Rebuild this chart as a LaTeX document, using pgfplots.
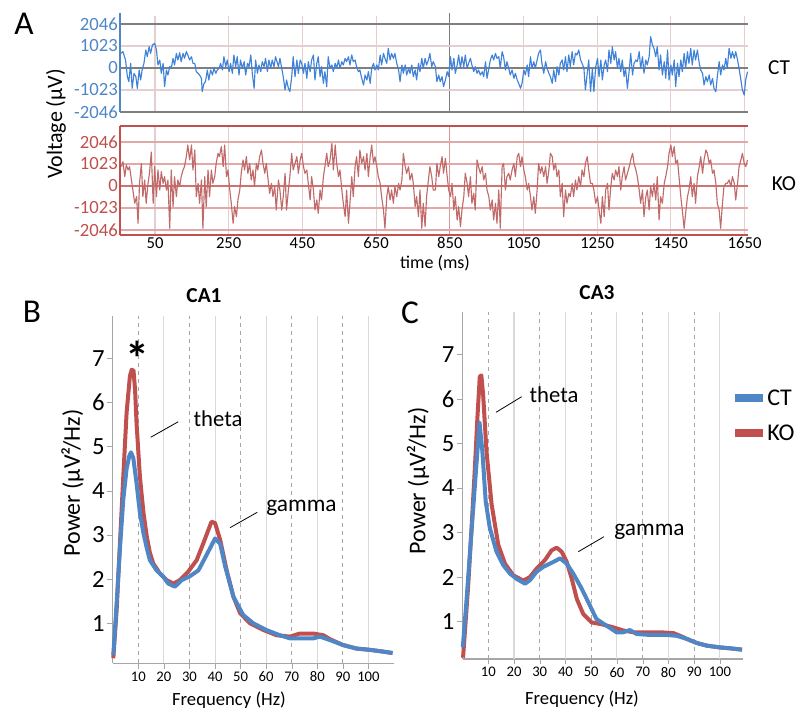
\documentclass[border=0pt]{standalone}
\usepackage{pgfplots}
\pgfplotsset{compat=1.18}
\usepackage{fontspec}
\setmainfont{Carlito}
\definecolor{ctblue}{HTML}{4F86C6}
\definecolor{kored}{HTML}{C0504D}
\definecolor{trblue}{HTML}{3F82D8}
\definecolor{trred}{HTML}{C06A6A}
\definecolor{gridpink}{HTML}{E3CFD0}
\definecolor{darkgrid}{HTML}{7F7F7F}
\definecolor{kogrid}{HTML}{E2A8A8}
\definecolor{axisgray}{HTML}{A6A6A6}
\definecolor{lightgrid}{HTML}{D9D9D9}

\begin{document}
\begin{tikzpicture}[x=0.75pt,y=-0.75pt]
\useasboundingbox (0,0) rectangle (801,713);

% ---------- A: CT trace ----------
\begin{axis}[at={(90pt,-84pt)},anchor=south west,scale only axis,
  width=471.2pt,height=74.25pt,clip=false,
  xmin=-45,xmax=1660,ymin=-2046,ymax=2558,
  axis line style={draw=none},xtick=\empty,
  ytick={-2046,-1023,0,1023,2046},yticklabels={-2046,-1023,0,1023,2046},
  major tick length=0pt,
  yticklabel style={font=\fontsize{14}{16}\selectfont,text=ctblue,inner sep=1.5pt}]
\pgfplotsinvokeforeach{50,250,450,650,1050,1250,1450,1650}{
  \draw[gridpink,line width=0.8pt] (axis cs:#1,-2046) -- (axis cs:#1,2400);}
\draw[darkgrid,line width=0.9pt] (axis cs:850,-2046) -- (axis cs:850,2558);
\draw[gridpink,line width=0.8pt] (axis cs:-45,1023) -- (axis cs:1660,1023);
\draw[gridpink,line width=0.8pt] (axis cs:-45,-1023) -- (axis cs:1660,-1023);
\draw[darkgrid,line width=0.9pt] (axis cs:-45,2046) -- (axis cs:1660,2046);
\draw[darkgrid,line width=0.9pt] (axis cs:-45,0) -- (axis cs:1660,0);
\draw[darkgrid,line width=1pt] (axis cs:-45,-2046) -- (axis cs:1660,-2046);
\draw[ctblue,line width=1.5pt] (axis cs:-45,-2046) -- (axis cs:-45,2558);
\addplot[trblue,line width=0.85pt,line join=round] coordinates {
(-43,682) (-37,760) (-30,372) (-25,-403) (-21,-636) (-16,217) (-12,-946) (-7,-248) (-2,-403) (2,-946)
(7,-93) (11,-558) (15,-93) (20,217) (25,837) (29,527) (34,992) (38,682) (43,1070) (49,1147)
(54,837) (58,140) (63,372) (67,-248) (72,217) (76,-868) (81,-93) (85,-326) (90,62) (94,-16)
(99,450) (103,140) (108,682) (112,372) (117,713) (121,295) (126,682) (130,450) (135,760) (139,605)
(144,372) (149,527) (153,217) (158,217) (162,-171) (167,-248) (171,-326) (176,-481) (178,-1100) (183,-713)
(187,-636) (192,-93) (196,-558) (201,-93) (206,-326) (210,-16) (215,-248) (219,-93) (224,-16) (228,217)
(233,-93) (237,527) (242,62) (246,372) (251,-171) (255,217) (260,-248) (264,605) (269,62) (273,527)
(278,-326) (282,372) (287,-16) (292,295) (296,-326) (301,217) (305,62) (310,605) (314,-248) (319,-946)
(323,372) (328,-248) (332,140) (337,-171) (341,295) (346,62) (350,450) (355,-171) (359,372) (364,-16)
(368,372) (373,62) (377,527) (385,62) (389,450) (394,-16) (398,-403) (403,-1023) (407,-558) (412,-946)
(416,-1100) (421,-403) (425,527) (430,-403) (435,372) (439,-248) (444,372) (448,217) (453,-248) (457,217)
(462,-481) (466,295) (471,-171) (475,372) (480,605) (484,-558) (489,217) (493,527) (498,-403) (502,62)
(507,-713) (511,-171) (516,-868) (520,527) (525,-16) (530,140) (534,-171) (539,217) (543,-16) (548,372)
(552,-16) (557,295) (561,140) (566,450) (570,295) (575,527) (579,140) (584,605) (588,295) (593,372)
(597,62) (602,-171) (606,-93) (611,-481) (616,-790) (620,-326) (625,-558) (629,-171) (634,-713) (638,-16)
(643,217) (647,-93) (652,140) (656,-93) (661,605) (665,140) (670,682) (674,450) (679,217) (683,915)
(688,372) (692,682) (697,450) (701,682) (706,217) (711,-93) (715,-636) (720,140) (724,-248) (729,140)
(733,-326) (738,-16) (742,-248) (747,140) (751,-403) (756,-93) (760,-558) (765,217) (769,-171) (774,450)
(778,-16) (783,450) (787,140) (792,372) (796,682) (801,62) (805,295) (811,62) (815,-636) (820,-326)
(824,-636) (829,-403) (833,-868) (838,-558) (843,-171) (847,-403) (852,527) (856,-93) (861,450) (865,-248)
(870,140) (874,605) (879,-16) (883,527) (888,62) (892,605) (897,-16) (901,217) (906,450) (910,140)
(915,-171) (919,62) (924,-248) (928,-93) (933,-326) (938,-171) (942,-403) (947,295) (951,-481) (956,-16)
(960,372) (965,605) (969,372) (974,682) (978,450) (983,527) (987,-16) (992,760) (996,527) (1001,-93)
(1005,295) (1010,-16) (1014,-326) (1019,-93) (1024,-481) (1028,-248) (1033,-558) (1037,-713) (1042,-946) (1046,-713)
(1051,-93) (1055,-326) (1060,140) (1064,-403) (1069,527) (1073,-16) (1078,295) (1082,-16) (1087,372) (1091,682)
(1096,837) (1100,217) (1105,-248) (1110,295) (1114,-16) (1119,-248) (1123,-403) (1128,-713) (1132,-93) (1137,-636)
(1141,62) (1146,-326) (1150,217) (1155,372) (1159,-93) (1164,527) (1168,-171) (1173,605) (1177,62) (1182,760)
(1186,140) (1191,682) (1195,605) (1200,837) (1205,372) (1209,217) (1214,-16) (1218,-1023) (1223,-248) (1227,372)
(1232,-1100) (1237,-16) (1241,-1100) (1246,62) (1251,450) (1255,-403) (1260,372) (1264,-558) (1269,140) (1273,372)
(1278,-171) (1282,837) (1287,217) (1291,992) (1296,372) (1300,760) (1305,-16) (1309,450) (1314,-171) (1318,372)
(1323,-403) (1327,-16) (1332,-946) (1337,-93) (1341,682) (1346,-326) (1350,217) (1355,372) (1359,295) (1364,760)
(1368,-16) (1373,527) (1377,-248) (1382,372) (1386,140) (1391,527) (1395,1457) (1400,1070) (1404,915) (1409,527)
(1413,992) (1418,-93) (1422,605) (1427,-326) (1432,295) (1436,-481) (1441,837) (1445,-558) (1450,140) (1454,-326)
(1459,372) (1463,-868) (1468,217) (1472,-403) (1477,372) (1481,-171) (1486,682) (1490,-16) (1495,760) (1499,217)
(1504,915) (1508,140) (1513,837) (1517,372) (1522,837) (1527,217) (1531,-93) (1536,-248) (1540,-790) (1545,-403)
(1549,-636) (1554,-326) (1558,-790) (1563,-481) (1567,-946) (1572,-1100) (1576,-403) (1581,295) (1585,-326) (1590,140)
(1594,-93) (1599,450) (1603,-16) (1608,915) (1613,450) (1617,760) (1622,450) (1626,760) (1631,372) (1635,-16)
(1640,-558) (1644,-1023) (1649,-1256) (1653,-558) (1658,-171)
};
\end{axis}

% ---------- A: KO trace ----------
\begin{axis}[at={(90pt,-176.25pt)},anchor=south west,scale only axis,
  width=471.2pt,height=81.75pt,clip=false,
  xmin=-45,xmax=1660,ymin=-2279,ymax=2790,
  axis line style={draw=none},
  xtick={50,250,450,650,850,1050,1250,1450,1650},
  xticklabels={50,250,450,650,850,1050,1250,1450,1650},
  ytick={-2046,-1023,0,1023,2046},yticklabels={-2046,-1023,0,1023,2046},
  major tick length=0pt,
  yticklabel style={font=\fontsize{14}{16}\selectfont,text=kored,inner sep=1.5pt},
  xticklabel style={font=\fontsize{12.5}{14}\selectfont,inner sep=1.5pt}]
\pgfplotsinvokeforeach{50,250,450,650,1050,1250,1450,1650}{
  \draw[gridpink,line width=0.8pt] (axis cs:#1,-2279) -- (axis cs:#1,2790);}
\draw[kogrid!80!kored,line width=0.9pt] (axis cs:850,-2279) -- (axis cs:850,2790);
\draw[kogrid,line width=0.8pt] (axis cs:-45,1023) -- (axis cs:1660,1023);
\draw[kogrid,line width=0.8pt] (axis cs:-45,-1023) -- (axis cs:1660,-1023);
\draw[kogrid,line width=1pt] (axis cs:-45,2046) -- (axis cs:1660,2046);
\draw[kogrid,line width=1pt] (axis cs:-45,-2046) -- (axis cs:1660,-2046);
\draw[kored!80,line width=0.8pt] (axis cs:-45,0) -- (axis cs:1660,0);
\draw[kored,line width=1.5pt] (axis cs:-45,2790) -- (axis cs:1660,2790);
\draw[kored,line width=2pt] (axis cs:-45,-2279) -- (axis cs:1660,-2279);
\draw[kored,line width=1.2pt] (axis cs:-45,-2279) -- (axis cs:-45,2790);
\addplot[trred,line width=0.85pt,line join=round] coordinates {
(-41,899) (-37,1132) (-32,434) (-28,977) (-23,744) (-19,899) (-14,279) (-10,-186) (-5,-806) (0,-496)
(4,-1736) (8,124) (13,1054) (17,-496) (22,279) (26,-806) (31,124) (35,589) (40,1581) (45,-806)
(49,899) (54,-496) (58,744) (63,-186) (67,667) (72,124) (76,434) (81,-186) (85,279) (90,-1969)
(94,744) (99,-961) (103,434) (108,-496) (112,279) (117,-31) (121,434) (126,744) (130,899) (135,1364)
(139,1907) (144,1209) (149,1907) (153,744) (158,1674) (162,-496) (167,124) (171,-806) (176,279) (180,-1969)
(185,434) (189,-961) (194,744) (198,-496) (203,744) (207,124) (212,434) (216,1054) (221,1519) (225,1364)
(230,1829) (235,899) (239,1907) (244,434) (248,744) (253,-186) (257,-806) (262,-1736) (266,-961) (271,-1426)
(275,-651) (280,-186) (284,589) (289,1209) (293,744) (298,1364) (302,589) (307,1054) (311,279) (316,744)
(320,-31) (325,1054) (329,744) (334,1364) (339,1674) (343,1054) (348,589) (352,1054) (357,279) (361,-341)
(366,124) (370,-496) (375,-31) (379,-1116) (385,279) (389,-186) (394,-1116) (398,-496) (403,589) (407,-1116)
(412,-186) (416,434) (421,1519) (425,744) (430,1054) (435,1364) (439,589) (444,1209) (448,1519) (453,899)
(457,589) (462,744) (466,124) (471,-651) (475,434) (480,-186) (484,-1116) (489,-651) (493,-1271) (498,-186)
(502,-651) (507,434) (511,899) (516,1519) (520,899) (525,1209) (530,1984) (534,744) (539,1907) (543,1054)
(548,434) (552,744) (557,-186) (561,-806) (566,-1426) (570,-186) (575,-1736) (579,-806) (584,434) (588,-496)
(593,899) (597,1364) (602,434) (606,1674) (611,1054) (616,1364) (620,744) (625,1519) (629,434) (634,1364)
(638,1907) (643,1054) (647,1364) (652,899) (656,434) (661,124) (665,-496) (670,-1116) (674,-1969) (679,-496)
(683,-31) (688,-651) (692,-186) (697,-806) (701,-31) (706,-496) (711,124) (715,-186) (720,279) (724,1519)
(729,899) (733,589) (738,899) (742,279) (747,589) (751,124) (756,-961) (760,-496) (765,-1426) (769,-186)
(774,-1969) (778,-806) (783,-1891) (787,-496) (792,279) (796,899) (801,434) (805,-186) (811,-186) (815,1054)
(820,434) (824,899) (829,1364) (833,589) (838,1287) (843,434) (847,-186) (852,-496) (856,124) (861,-1116)
(865,-496) (870,-1581) (874,-961) (879,-1891) (883,-1116) (888,-496) (892,589) (897,124) (901,-496) (906,434)
(910,-806) (915,-341) (919,-1116) (924,1209) (928,899) (933,589) (938,899) (942,279) (947,589) (951,-186)
(956,-496) (960,-1116) (965,-651) (969,-1581) (974,-806) (978,-1736) (983,-186) (987,-1969) (992,899) (996,1054)
(1001,-186) (1005,434) (1010,589) (1014,279) (1019,744) (1024,1054) (1028,434) (1033,1364) (1037,1519) (1042,899)
(1046,1364) (1051,744) (1055,434) (1060,-186) (1064,124) (1069,-496) (1073,-1116) (1078,-496) (1082,-1271) (1087,-186)
(1091,1054) (1096,589) (1100,899) (1105,434) (1110,899) (1114,124) (1119,744) (1123,1519) (1128,1364) (1132,744)
(1137,1054) (1141,434) (1146,744) (1150,-496) (1155,124) (1159,-1426) (1164,-186) (1168,-806) (1173,-341) (1177,-496)
(1182,124) (1186,-496) (1191,279) (1195,-186) (1200,434) (1205,-31) (1209,744) (1214,434) (1218,1054) (1223,1364)
(1227,744) (1232,124) (1237,124) (1241,-186) (1246,-806) (1251,-496) (1255,-1116) (1260,-1736) (1264,-496) (1269,-1426)
(1273,-186) (1278,124) (1282,-1116) (1287,-31) (1291,589) (1296,279) (1300,744) (1305,434) (1309,899) (1314,-186)
(1318,434) (1323,899) (1327,279) (1332,589) (1337,899) (1341,1209) (1346,1519) (1350,1054) (1355,744) (1359,434)
(1364,-186) (1368,-806) (1373,-186) (1377,-1426) (1382,-496) (1386,-186) (1391,-1116) (1395,-31) (1400,-496) (1404,124)
(1409,-651) (1413,434) (1418,-1581) (1422,-496) (1427,-806) (1432,124) (1436,434) (1441,899) (1445,1519) (1450,1907)
(1454,1364) (1459,1829) (1463,1054) (1468,1209) (1472,434) (1477,-496) (1481,-1116) (1486,-1969) (1490,-1271) (1495,-496)
(1499,-186) (1504,434) (1508,-496) (1513,124) (1517,-806) (1522,434) (1527,899) (1531,1364) (1536,589) (1540,1209)
(1545,1674) (1549,1519) (1554,1054) (1558,1209) (1563,589) (1567,744) (1572,124) (1576,-806) (1581,-1116) (1585,-1969)
(1590,-806) (1594,-31) (1599,124) (1603,124) (1608,279) (1613,-31) (1617,434) (1622,124) (1626,-651) (1631,124)
(1635,899) (1640,1209) (1644,1519) (1649,1054) (1653,899) (1658,1209)
};
\end{axis}

\node[font=\fontsize{25}{28}\selectfont] at (24,24) {A};
\node[rotate=90,font=\fontsize{16.5}{18}\selectfont] at (56,124) {Voltage (µV)};
\node[font=\fontsize{16}{18}\selectfont] at (779,68) {CT};
\node[font=\fontsize{16}{18}\selectfont] at (784,184) {KO};
\node[font=\fontsize{13.5}{15}\selectfont] at (435,263) {time (ms)};

% ---------- B: CA1 ----------
\begin{axis}[at={(84.6pt,-497.5pt)},anchor=south west,scale only axis,
  width=210.9pt,height=260.3pt,clip=false,
  xmin=0,xmax=110,ymin=0.095,ymax=7.95,
  axis lines=left,axis line style={-,draw=axisgray,line width=0.8pt},
  xtick={10,20,...,100},ytick={1,2,...,7},
  tick align=outside,major tick length=4pt,tick style={axisgray},
  /pgf/number format/assume math mode=true,
  xticklabel style={font=\fontsize{11}{12}\selectfont,inner sep=2pt},
  yticklabel style={font=\fontsize{18.5}{20}\selectfont,inner sep=2pt}]
\pgfplotsinvokeforeach{20,40,60,80,100}{
  \draw[lightgrid,line width=0.8pt] (axis cs:#1,0.095) -- (axis cs:#1,7.95);}
\pgfplotsinvokeforeach{10,30,50,70,90}{
  \draw[axisgray,dashed,line width=0.6pt] (axis cs:#1,0.095) -- (axis cs:#1,7.95);}
\addplot[kored,line width=3pt,line join=round] coordinates {
(0.2,0.21) (1.5,1.30) (2.8,2.81) (4.1,4.32) (5.4,5.77) (6.7,6.6) (7.4,6.74) (8.1,6.72) (8.7,6.3) (9.3,5.52)
(10.6,4.32) (12,3.5) (13.3,2.96) (14.5,2.6) (15.8,2.36) (18.4,2.13) (21,1.98) (23.7,1.9) (26.3,1.98) (29.5,2.17)
(32.8,2.43) (35.4,2.81) (38.6,3.3) (40,3.27) (42,2.89) (44.5,2.21) (47.2,1.6) (49.8,1.23) (53.7,1.0) (58.9,0.85)
(64.1,0.73) (69.3,0.7) (73.2,0.77) (78.4,0.77) (82.4,0.73) (85,0.64) (90,0.51) (95.3,0.43) (100.6,0.4) (105.8,0.36) (109,0.33)
};
\addplot[ctblue,line width=3pt,line join=round] coordinates {
(0.2,0.28) (1.5,1.45) (2.8,2.7) (4.1,3.8) (5.4,4.5) (6.5,4.8) (7.1,4.87) (8,4.75) (9.3,4.17) (10.6,3.5)
(12,3.04) (13.3,2.7) (14.5,2.43) (17.1,2.2) (19.7,2.06) (21.7,1.9) (24.3,1.83) (27,1.98) (30,2.06) (33.5,2.2)
(36.7,2.55) (40,2.92) (42,2.8) (44,2.28) (47.2,1.6) (51,1.19) (55,1.0) (60,0.85) (65.4,0.73) (69.3,0.66)
(73.2,0.66) (78.4,0.66) (81,0.7) (85,0.62) (90,0.51) (95.3,0.43) (100.6,0.4) (105.8,0.36) (109.5,0.33)
};
\end{axis}

\node[font=\fontsize{25}{28}\selectfont] at (32,312) {B};
\node[font=\fontsize{16}{18}\selectfont\bfseries] at (204,296) {CA1};
\node[font=\fontsize{36}{38}\selectfont\bfseries] at (137,358) {*};
\node[rotate=90,font=\fontsize{18}{20}\selectfont] at (72.5,483) {Power (µV²/Hz)};
\node[font=\fontsize{14}{16}\selectfont] at (229,700) {Frequency (Hz)};
\node[font=\fontsize{17}{19}\selectfont] at (218,419) {theta};
\draw[black,line width=0.6pt] (150.7,437.3) -- (178.3,421.7);
\node[font=\fontsize{17.5}{19}\selectfont] at (301.5,508) {gamma};
\draw[black,line width=0.6pt] (230,527.7) -- (257.3,512.3);

% ---------- C: CA3 ----------
\begin{axis}[at={(346.9pt,-494.25pt)},anchor=south west,scale only axis,
  width=210.4pt,height=260.5pt,clip=false,
  xmin=0,xmax=109,ymin=0.16,ymax=7.96,
  axis lines=left,axis line style={-,draw=axisgray,line width=0.8pt},
  xtick={10,20,...,100},ytick={1,2,...,7},
  tick align=outside,major tick length=4pt,tick style={axisgray},
  /pgf/number format/assume math mode=true,
  xticklabel style={font=\fontsize{11}{12}\selectfont,inner sep=2pt},
  yticklabel style={font=\fontsize{18.5}{20}\selectfont,inner sep=2pt}]
\pgfplotsinvokeforeach{20,40,60,80,100}{
  \draw[lightgrid,line width=0.8pt] (axis cs:#1,0.16) -- (axis cs:#1,7.96);}
\pgfplotsinvokeforeach{10,30,50,70,90}{
  \draw[axisgray,dashed,line width=0.6pt] (axis cs:#1,0.16) -- (axis cs:#1,7.96);}
\addplot[kored,line width=3pt,line join=round] coordinates {
(0.2,0.19) (2.2,1.81) (3.5,3.1) (4.8,4.45) (5.8,5.6) (6.7,6.5) (7.3,6.53) (8,6.1) (9.3,4.83) (11.3,3.63)
(13.9,2.72) (16.5,2.3) (19.7,2.04) (23.6,1.92) (26.2,2.0) (28.8,2.19) (32,2.38) (34.6,2.6) (36.6,2.66) (38.5,2.57)
(40.5,2.34) (42.4,1.97) (44.4,1.51) (46.9,1.17) (50.2,0.98) (54.1,0.94) (58.6,0.87) (62.5,0.8) (66.4,0.76) (71.6,0.76)
(76.8,0.76) (82,0.74) (84.6,0.68) (87.2,0.61) (91,0.52) (94.9,0.46) (100,0.42) (104,0.4) (108.6,0.37)
};
\addplot[ctblue,line width=3pt,line join=round] coordinates {
(0.1,0.42) (1.5,1.44) (3.4,2.95) (5.3,4.45) (6.6,5.47) (7.7,4.83) (9,3.7) (10.6,3.1) (13.2,2.57) (15.8,2.27)
(18.4,2.08) (21,1.96) (24.3,1.85) (26.2,1.93) (28.8,2.12) (31.4,2.23) (35.3,2.34) (37.9,2.42) (40.5,2.3) (43,2.08)
(46.3,1.74) (49.5,1.36) (52,1.06) (55.9,0.91) (59.8,0.76) (62.4,0.76) (65,0.81) (67.7,0.72) (72.9,0.7) (79.4,0.7)
(83.3,0.68) (87.2,0.61) (91,0.52) (94.9,0.46) (100,0.42) (104,0.4) (108.6,0.37)
};
\end{axis}

\node[font=\fontsize{25}{28}\selectfont] at (410,313) {C};
\node[font=\fontsize{16}{18}\selectfont\bfseries] at (597,293) {CA3};
\node[rotate=90,font=\fontsize{18}{20}\selectfont] at (418,481) {Power (µV²/Hz)};
\node[font=\fontsize{14}{16}\selectfont] at (582,699) {Frequency (Hz)};
\node[font=\fontsize{17}{19}\selectfont] at (554,395) {theta};
\draw[black,line width=0.6pt] (496,412.3) -- (521.7,396.7);
\node[font=\fontsize{17.5}{19}\selectfont] at (649.5,532) {gamma};
\draw[black,line width=0.6pt] (578.3,551.7) -- (604,536.7);

% legend
\draw[ctblue,line width=5.5pt] (735,398) -- (763,398);
\draw[kored,line width=5.5pt] (735,433) -- (763,433);
\node[anchor=west,font=\fontsize{18}{20}\selectfont,inner sep=0pt] at (767,398) {CT};
\node[anchor=west,font=\fontsize{18}{20}\selectfont,inner sep=0pt] at (767,433) {KO};
\end{tikzpicture}
\end{document}
